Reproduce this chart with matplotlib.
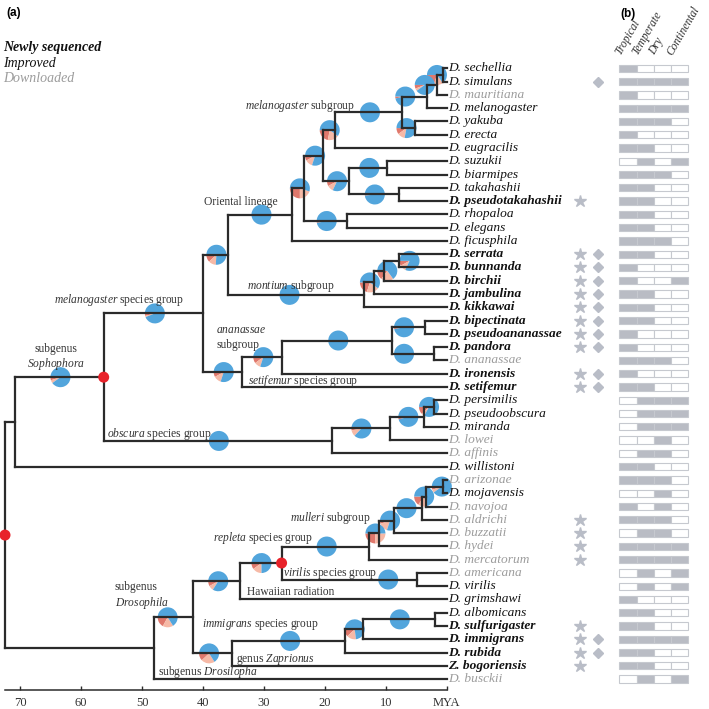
import matplotlib
matplotlib.use("Agg")
import matplotlib.pyplot as plt
from matplotlib.patches import Wedge, Circle, Rectangle
from matplotlib.transforms import ScaledTranslation

plt.rcParams['font.family'] = 'Liberation Serif'
plt.rcParams['mathtext.fontset'] = 'custom'
plt.rcParams['mathtext.rm'] = 'Liberation Serif'
plt.rcParams['mathtext.it'] = 'Liberation Serif:italic'

# ---- data ----
species = ["D. sechellia", "D. simulans", "D. mauritiana", "D. melanogaster", "D. yakuba",
           "D. erecta", "D. eugracilis", "D. suzukii", "D. biarmipes", "D. takahashii",
           "D. pseudotakahashii", "D. rhopaloa", "D. elegans", "D. ficusphila", "D. serrata",
           "D. bunnanda", "D. birchii", "D. jambulina", "D. kikkawai", "D. bipectinata",
           "D. pseudoananassae", "D. pandora", "D. ananassae", "D. ironensis", "D. setifemur",
           "D. persimilis", "D. pseudoobscura", "D. miranda", "D. lowei", "D. affinis",
           "D. willistoni", "D. arizonae", "D. mojavensis", "D. navojoa", "D. aldrichi",
           "D. buzzatii", "D. hydei", "D. mercatorum", "D. americana", "D. virilis",
           "D. grimshawi", "D. albomicans", "D. sulfurigaster", "D. immigrans", "D. rubida",
           "Z. bogoriensis", "D. busckii"]
# n = newly sequenced, i = improved, d = downloaded
status = "iidiiiiiiin" + "iii" + "nnnnnnnn" + "d" + "nn" + "iii" + "dd" + "i" + "did" + "ddddd" + "iii" + "nnnn" + "d"
star = [11, 15, 16, 17, 18, 19, 20, 21, 22, 24, 25, 35, 36, 37, 38, 43, 44, 45, 46]
diamond = [2, 15, 16, 17, 18, 19, 20, 21, 22, 24, 25, 44, 45]

climate_cols = ["Tropical", "Temperate", "Dry", "Continental"]
climate = ["1000", "1111", "1000", "1111", "1110", "1000", "1100", "0101", "1110", "1100",
           "1100", "1100", "1100", "1110", "1100", "1000", "1001", "1100", "1100", "1100",
           "1000", "1000", "1110", "1000", "1100", "0111", "0111", "0111", "0010", "0110",
           "1100", "1110", "0010", "1010", "1110", "0110", "1111", "1111", "0101", "0101",
           "1000", "1100", "1100", "1111", "1100", "1100", "0101"]

# clade name, age (MYA), child a, child b
clades = [
    ("sech_sim", 0.6, "D. sechellia", "D. simulans"),
    ("sim_cplx", 1.6, "sech_sim", "D. mauritiana"),
    ("mel_cplx", 3.3, "sim_cplx", "D. melanogaster"),
    ("yak_ere", 5.2, "D. yakuba", "D. erecta"),
    ("mel_sub", 7.4, "mel_cplx", "yak_ere"),
    ("mel_eug", 18.3, "mel_sub", "D. eugracilis"),
    ("suz_bia", 9.75, "D. suzukii", "D. biarmipes"),
    ("tak_pse", 7.9, "D. takahashii", "D. pseudotakahashii"),
    ("suz_tak", 16.0, "suz_bia", "tak_pse"),
    ("mel_suz", 20.3, "mel_eug", "suz_tak"),
    ("rho_ele", 16.4, "D. rhopaloa", "D. elegans"),
    ("mel_rho", 23.4, "mel_suz", "rho_ele"),
    ("oriental", 25.4, "mel_rho", "D. ficusphila"),
    ("ser_bun", 7.9, "D. serrata", "D. bunnanda"),
    ("ser_bir", 10.3, "ser_bun", "D. birchii"),
    ("ser_jam", 11.9, "ser_bir", "D. jambulina"),
    ("montium", 13.6, "ser_jam", "D. kikkawai"),
    ("ori_mon", 35.9, "oriental", "montium"),
    ("bip_pse", 3.6, "D. bipectinata", "D. pseudoananassae"),
    ("pan_ana", 2.1, "D. pandora", "D. ananassae"),
    ("ananassae", 8.9, "bip_pse", "pan_ana"),
    ("ana_iro", 27.1, "ananassae", "D. ironensis"),
    ("ana_set", 33.6, "ana_iro", "D. setifemur"),
    ("mel_group", 40.0, "ori_mon", "ana_set"),
    ("per_pse", 2.1, "D. persimilis", "D. pseudoobscura"),
    ("per_mir", 3.7, "per_pse", "D. miranda"),
    ("per_low", 9.3, "per_mir", "D. lowei"),
    ("obscura", 18.9, "per_low", "D. affinis"),
    ("sophophora", 56.3, "mel_group", "obscura"),
    ("soph_wil", 70.9, "sophophora", "D. willistoni"),
    ("ari_moj", 0.55, "D. arizonae", "D. mojavensis"),
    ("ari_nav", 3.4, "ari_moj", "D. navojoa"),
    ("ari_ald", 4.1, "ari_nav", "D. aldrichi"),
    ("mulleri", 8.65, "ari_ald", "D. buzzatii"),
    ("mul_hyd", 11.1, "mulleri", "D. hydei"),
    ("repleta", 12.8, "mul_hyd", "D. mercatorum"),
    ("ame_vir", 4.9, "D. americana", "D. virilis"),
    ("rep_vir", 27.1, "repleta", "ame_vir"),
    ("rep_haw", 33.9, "rep_vir", "D. grimshawi"),
    ("alb_sul", 1.9, "D. albomicans", "D. sulfurigaster"),
    ("alb_imm", 13.8, "alb_sul", "D. immigrans"),
    ("immigrans", 16.7, "alb_imm", "D. rubida"),
    ("imm_zap", 35.2, "immigrans", "Z. bogoriensis"),
    ("drosophila", 41.6, "rep_haw", "imm_zap"),
    ("dros_bus", 48.0, "drosophila", "D. busckii"),
    ("root", 72.5, "soph_wil", "dros_bus"),
]

# ancestral state pies: node, age where drawn, dark red share, light red share (rest blue)
pies = [
    ("sech_sim", 1.6, .20, .15), ("sim_cplx", 3.6, .06, .04), ("mel_cplx", 6.8, .03, 0),
    ("yak_ere", 6.6, .10, .12), ("mel_sub", 12.6, 0, 0), ("mel_eug", 19.2, .22, .18),
    ("mel_suz", 21.6, .08, .12), ("suz_bia", 12.7, .02, 0), ("tak_pse", 11.8, .02, 0),
    ("suz_tak", 18.0, .08, .10), ("rho_ele", 19.7, .03, 0), ("mel_rho", 24.1, .25, .20),
    ("oriental", 30.4, .02, 0), ("ori_mon", 37.8, .12, .12), ("mel_group", 47.9, .04, .02),
    ("ser_bun", 6.1, .08, .10), ("ser_bir", 9.75, .15, .20), ("ser_jam", 12.6, .20, .20),
    ("montium", 25.8, 0, 0), ("bip_pse", 7.0, .03, 0), ("pan_ana", 7.0, 0, 0),
    ("ananassae", 17.8, 0, 0), ("ana_iro", 30.1, .10, .10), ("ana_set", 36.6, .08, .12),
    ("sophophora", 63.4, .05, .05), ("obscura", 37.4, 0, 0), ("per_pse", 2.9, .12, .05),
    ("per_mir", 6.3, .04, 0), ("per_low", 14.0, .03, .10), ("ari_moj", 0.8, .05, .05),
    ("ari_nav", 3.7, .15, .15), ("ari_ald", 6.6, .02, 0), ("mulleri", 9.3, .05, .15),
    ("mul_hyd", 11.7, .25, .25), ("repleta", 19.7, 0, 0), ("ame_vir", 9.6, 0, 0),
    ("rep_vir", 30.4, .10, .15), ("rep_haw", 37.5, .08, .08), ("drosophila", 45.8, .17, .17),
    ("imm_zap", 39.0, .12, .22), ("immigrans", 25.7, 0, 0), ("alb_sul", 7.7, 0, 0),
    ("alb_imm", 15.1, .12, .15),
]
red_nodes = ["root", "sophophora", "rep_vir"]

# clade labels: text, age, row
labels = [
    (r"$\mathit{melanogaster}$ subgroup", 15.05, 2.84, "right"),
    ("Oriental lineage", 39.8, 10.05, "left"),
    (r"$\mathit{montium}$ subgroup", 32.8, 16.4, "left"),
    (r"$\mathit{melanogaster}$ species group", 64.5, 17.45, "left"),
    ("subgenus", 64.1, 21.12, "center"),
    (r"$\mathit{Sophophora}$", 64.1, 22.28, "center"),
    (r"$\mathit{ananassae}$", 37.8, 19.7, "left"),
    ("subgroup", 37.8, 20.8, "left"),
    (r"$\mathit{setifemur}$ species group", 32.6, 23.55, "left"),
    (r"$\mathit{obscura}$ species group", 55.8, 27.54, "left"),
    (r"$\mathit{mulleri}$ subgroup", 25.7, 33.86, "left"),
    (r"$\mathit{repleta}$ species group", 38.35, 35.37, "left"),
    (r"$\mathit{virilis}$ species group", 26.85, 37.98, "left"),
    ("Hawaiian radiation", 32.8, 39.41, "left"),
    ("subgenus", 54.45, 39.1, "left"),
    (r"$\mathit{Drosophila}$", 54.45, 40.28, "left"),
    (r"$\mathit{immigrans}$ species group", 40.2, 41.92, "left"),
    (r"genus $\mathit{Zaprionus}$", 34.6, 44.5, "left"),
    (r"subgenus $\mathit{Drosilopha}$", 47.4, 45.5, "left"),
]

ticks = [70, 60, 50, 40, 30, 20, 10, 0]
tick_labels = ["70", "60", "50", "40", "30", "20", "10", "MYA"]

# ---- styles ----
line_col = '#2b2b2b'
pie_cols = ['#e0786c', '#f6b9a6', '#52a5dc']
gray_txt = '#9c9c9c'
cell_fill = '#b9bcc4'
cell_edge = '#c6c9cf'
W = 709.0

fig = plt.figure(figsize=(7.09, 7.09), dpi=100)
ax = fig.add_axes([5 / W, 19 / W, 441.7 / W, 670 / W])
ax.set_xlim(72.5, 0)
ax.set_ylim(46.82, -3.64)

pos = {name: (0.0, i) for i, name in enumerate(species)}
for name, age, a, b in clades:
    (xa, ya), (xb, yb) = pos[a], pos[b]
    pos[name] = (age, (ya + yb) / 2)
    kw = dict(color=line_col, lw=1.6, solid_capstyle='projecting', zorder=3, clip_on=False)
    ax.plot([age, age], [ya, yb], **kw)
    ax.plot([age, xa], [ya, ya], **kw)
    ax.plot([age, xb], [yb, yb], **kw)

for i, name in enumerate(species):
    st = status[i]
    ax.text(-0.25, i, name, ha='left', va='center', fontsize=9.6, fontstyle='italic',
            fontweight='bold' if st == 'n' else 'normal',
            color=gray_txt if st == 'd' else '#111111', clip_on=False)


def pie_at(x, y, fracs, r=0.1):
    tr = fig.dpi_scale_trans + ScaledTranslation(x, y, ax.transData)
    start = 180.0
    for f, c in zip(fracs, pie_cols):
        if f <= 0:
            continue
        ax.add_patch(Wedge((0, 0), r, start, start + 360 * f, transform=tr,
                           facecolor=c, edgecolor='none', zorder=2, clip_on=False))
        start += 360 * f


for node, age, dark, light in pies:
    pie_at(age, pos[node][1], [dark, light, 1 - dark - light])

for node in red_nodes:
    x, y = pos[node]
    tr = fig.dpi_scale_trans + ScaledTranslation(x, y, ax.transData)
    ax.add_patch(Circle((0, 0), 0.055, transform=tr, facecolor='#e8222a',
                        edgecolor='none', zorder=4, clip_on=False))

for txt, age, row, ha in labels:
    ax.text(age, row, txt, ha=ha, va='center', fontsize=8.3, color='#333333', clip_on=False)

for s in ['top', 'left', 'right']:
    ax.spines[s].set_visible(False)
ax.spines['bottom'].set_color(line_col)
ax.spines['bottom'].set_linewidth(1.1)
ax.set_yticks([])
ax.set_xticks(ticks)
ax.set_xticklabels(tick_labels)
ax.tick_params(axis='x', direction='in', length=3, width=1, color=line_col,
               labelsize=9, labelcolor='#333333', pad=5)

# ---- panel (b) ----
axb = fig.add_axes([619.3 / W, 19 / W, 69 / W, 670 / W])
axb.set_xlim(0, 4)
axb.set_ylim(46.82, -3.64)
axb.axis('off')
for i, row in enumerate(climate):
    for j, v in enumerate(row):
        axb.add_patch(Rectangle((j, i - 0.275), 1, 0.55,
                                facecolor=cell_fill if v == '1' else 'white',
                                edgecolor=cell_edge, lw=0.8, clip_on=False))
for j, c in enumerate(climate_cols):
    axb.text(j + 0.2, -0.85, c, rotation=60, rotation_mode='anchor', ha='left', va='bottom',
             fontsize=8.3, fontstyle='italic', color='#333333', clip_on=False)
axb.plot([-2.28] * len(star), [k - 1 for k in star], ls='none', marker='*', ms=9,
         color='#b9bdc7', clip_on=False)
axb.plot([-1.23] * len(diamond), [k - 1 for k in diamond], ls='none', marker='D', ms=5.5,
         color='#b9bdc7', clip_on=False)

# ---- panel letters and legend ----
fig.text(6 / W, 1 - 13 / W, "(a)", fontsize=8.5, fontweight='bold', family='Liberation Sans',
         ha='left', va='center')
fig.text(620 / W, 1 - 14 / W, "(b)", fontsize=8.5, fontweight='bold', family='Liberation Sans',
         ha='left', va='center')
fig.text(3 / W, 1 - 47 / W, "Newly sequenced", fontsize=10, fontweight='bold',
         fontstyle='italic', color='#111111', ha='left', va='center')
fig.text(3 / W, 1 - 63 / W, "Improved", fontsize=10, fontstyle='italic', color='#111111',
         ha='left', va='center')
fig.text(3 / W, 1 - 79 / W, "Downloaded", fontsize=10, fontstyle='italic', color=gray_txt,
         ha='left', va='center')

fig.savefig("out.png", dpi=100)
